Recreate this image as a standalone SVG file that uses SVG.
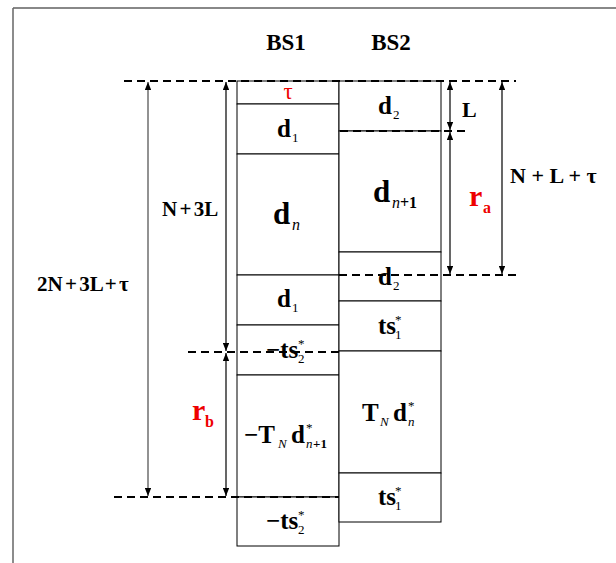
<svg xmlns="http://www.w3.org/2000/svg" width="616" height="563" viewBox="0 0 616 563">
<defs>
<style>
.m{font-family:"Liberation Serif","DejaVu Serif",serif;font-weight:bold;fill:#000}
.r{fill:#ee0000}
.s{font-weight:normal;font-size:13px}
.i{font-style:italic;font-weight:normal}
.cell{fill:#fff;stroke:#000;stroke-width:1}
.dash{stroke:#000;stroke-width:2;stroke-dasharray:8 5;fill:none}
.arr{stroke:#000;stroke-width:1.2;fill:none;marker-start:url(#ah);marker-end:url(#ah)}
.garr{stroke:#777;stroke-width:1.6;fill:none;marker-start:url(#ah);marker-end:url(#ah)}
</style>
<marker id="ah" viewBox="0 0 10 8" refX="10" refY="4" markerWidth="8" markerHeight="6.4" markerUnits="userSpaceOnUse" orient="auto-start-reverse">
<path d="M0,0 L10,4 L0,8 Z" fill="#000"/>
</marker>
</defs>
<rect width="616" height="563" fill="#fff"/>
<g id="frame">
<line x1="13" y1="8" x2="616" y2="8" stroke="#888" stroke-width="2"/>
<line x1="13" y1="8" x2="13" y2="563" stroke="#666" stroke-width="1.5"/>
</g>
<g id="headers" class="m" font-size="23" text-anchor="middle">
<text x="286" y="50">BS1</text>
<text x="391" y="50">BS2</text>
</g>
<g id="bs1">
<g id="bs1-tau"><rect class="cell" x="237" y="81" width="102" height="23"/><text class="m r" x="288" y="99" font-size="23" style="font-weight:normal" text-anchor="middle">τ</text></g>
<g id="bs1-d1a"><rect class="cell" x="237" y="104" width="102" height="50"/><text class="m" x="277" y="137" font-size="25">d<tspan class="s" x="292" y="142">1</tspan></text></g>
<g id="bs1-dn"><rect class="cell" x="237" y="154" width="102" height="121"/><text class="m" x="273" y="224" font-size="31">d<tspan class="i" font-size="16" x="292" y="230">n</tspan></text></g>
<g id="bs1-d1b"><rect class="cell" x="237" y="275" width="102" height="50"/><text class="m" x="277" y="307" font-size="25">d<tspan class="s" x="292" y="312">1</tspan></text></g>
<g id="bs1-ts2a"><rect class="cell" x="237" y="325" width="102" height="50"/><text class="m" x="266" y="358" font-size="25">−ts<tspan class="s" x="298" y="348">*</tspan><tspan class="s" x="298" y="363">2</tspan></text></g>
<g id="bs1-tnd"><rect class="cell" x="237" y="375" width="102" height="122"/><text class="m" x="244" y="443" font-size="25">−T<tspan class="i" font-size="13" x="278" y="448">N</tspan><tspan x="291" y="443">d</tspan><tspan class="s" x="306" y="432">*</tspan><tspan class="i" font-size="13" x="306" y="448">n</tspan><tspan font-size="13" x="313" y="448">+1</tspan></text></g>
<g id="bs1-ts2b"><rect class="cell" x="237" y="497" width="102" height="49"/><text class="m" x="266" y="529" font-size="25">−ts<tspan class="s" x="298" y="519">*</tspan><tspan class="s" x="298" y="534">2</tspan></text></g>
</g>
<g id="bs2">
<g id="bs2-d2a"><rect class="cell" x="339" y="81" width="102" height="50"/><text class="m" x="378" y="114" font-size="25">d<tspan class="s" x="393" y="119">2</tspan></text></g>
<g id="bs2-dn1"><rect class="cell" x="339" y="131" width="102" height="121"/><text class="m" x="373" y="202" font-size="31">d<tspan class="i" font-size="16" x="392" y="208">n</tspan><tspan font-size="16" x="400" y="208">+1</tspan></text></g>
<g id="bs2-d2b"><rect class="cell" x="339" y="252" width="102" height="49"/><text class="m" x="378" y="285" font-size="25">d<tspan class="s" x="393" y="290">2</tspan></text></g>
<g id="bs2-ts1a"><rect class="cell" x="339" y="301" width="102" height="50"/><text class="m" x="378" y="334" font-size="25">ts<tspan class="s" x="395" y="324">*</tspan><tspan class="s" x="395" y="339">1</tspan></text></g>
<g id="bs2-tnd"><rect class="cell" x="339" y="351" width="102" height="122"/><text class="m" x="362" y="421" font-size="25">T<tspan class="i" font-size="13" x="380" y="426">N</tspan><tspan x="393" y="421">d</tspan><tspan class="s" x="408" y="410">*</tspan><tspan class="i" font-size="13" x="408" y="426">n</tspan></text></g>
<g id="bs2-ts1b"><rect class="cell" x="339" y="473" width="102" height="49"/><text class="m" x="378" y="505" font-size="25">ts<tspan class="s" x="395" y="495">*</tspan><tspan class="s" x="395" y="510">1</tspan></text></g>
</g>
<g id="connectors">
<line class="dash" x1="124" y1="81" x2="516" y2="81"/>
<line class="dash" x1="340" y1="131" x2="470" y2="131"/>
<line class="dash" x1="339" y1="275" x2="518" y2="275"/>
<line class="dash" x1="188" y1="352" x2="340" y2="352"/>
<line class="dash" x1="114" y1="497" x2="339" y2="497"/>
<line class="garr" x1="148" y1="82" x2="148" y2="496"/>
<line class="arr" x1="226" y1="82" x2="226" y2="351"/>
<line class="arr" x1="226" y1="353" x2="226" y2="496"/>
<line class="arr" x1="450" y1="82" x2="450" y2="130"/>
<line class="arr" x1="450" y1="132" x2="450" y2="274"/>
<line class="arr" x1="502" y1="82" x2="502" y2="274"/>
</g>
<g id="labels" class="m">
<text x="37" y="291" font-size="21" word-spacing="-3">2N + 3L + τ</text>
<text x="162" y="216" font-size="21" word-spacing="-3">N + 3L</text>
<text x="462" y="117" font-size="22">L</text>
<text x="510" y="183" font-size="22">N + L + τ</text>
<text class="r" x="469" y="206" font-size="30">r<tspan font-size="16" x="483" y="213">a</tspan></text>
<text class="r" x="192" y="420" font-size="30">r<tspan font-size="16" x="205" y="427">b</tspan></text>
</g>
</svg>
